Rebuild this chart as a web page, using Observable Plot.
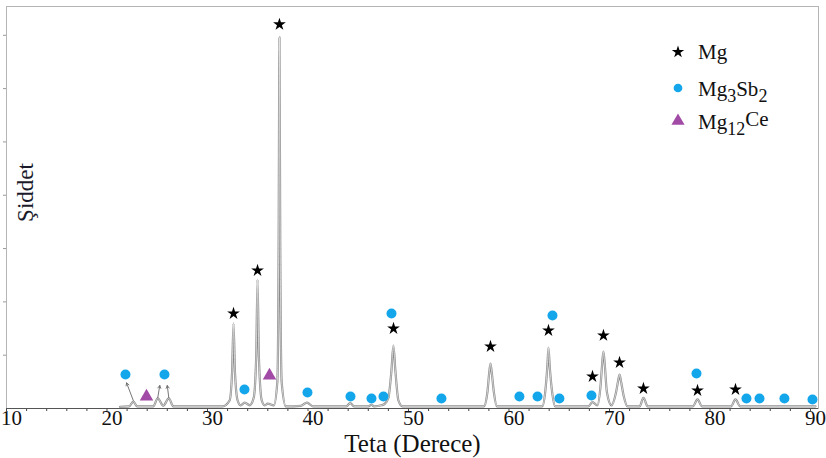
<!DOCTYPE html>
<html><head><meta charset="utf-8">
<script src="https://cdn.jsdelivr.net/npm/d3@7"></script>
<script src="https://cdn.jsdelivr.net/npm/@observablehq/plot@0.6"></script>
<style>body{margin:0;background:#fff} #chart svg{display:block}</style>
</head><body><div id="chart"></div>
<script>
// XRD spectrum (2θ in degrees, intensity in arbitrary counts)
const specX = [21.3, 22.2, 22.62, 23.0, 24.6, 25.05, 25.6, 26.15, 26.6,
  31.5, 32.2, 32.45, 32.59, 32.73, 33.0, 33.3, 33.7, 34.2,
  34.6, 34.85, 34.98, 35.11, 35.4, 35.7, 36.0, 36.6,
  36.95, 37.08, 37.16, 37.24, 37.38, 37.8,
  39.3, 39.9, 40.5, 43.8, 44.2, 44.6, 46.0, 46.3, 46.6, 47.3, 47.6,
  48.0, 48.3, 48.5, 48.7, 49.0, 49.4,
  57.5, 57.85, 58.05, 58.16, 58.27, 58.5, 58.8,
  63.3, 63.6, 63.82, 63.93, 64.05, 64.3, 64.6,
  67.9, 68.3, 68.8, 69.1, 69.3, 69.4, 69.5, 69.75, 70.2,
  70.65, 70.9, 71.0, 71.1, 71.4, 71.8,
  73.0, 73.38, 73.8, 78.3, 78.76, 79.2, 82.1, 82.54, 83.0, 90.5];
const specY = [30, 40, 130, 40, 40, 190, 50, 190, 40,
  40, 150, 700, 1595, 700, 150, 60, 110, 60,
  200, 1000, 2420, 1000, 150, 60, 90, 60,
  500, 3000, 6960, 3000, 500, 40,
  50, 110, 40, 40, 100, 40, 40, 70, 40, 60, 80,
  200, 700, 1182, 700, 150, 40,
  40, 300, 700, 844, 700, 300, 40,
  40, 300, 800, 1144, 800, 300, 40,
  40, 120, 60, 400, 900, 1069, 900, 300, 60,
  300, 560, 638, 560, 250, 40,
  40, 200, 40, 40, 170, 40, 40, 170, 40, 40];

// Phase markers
const mgX = [32.59, 34.98, 37.16, 48.51, 58.16, 63.93, 68.31, 69.40, 71.0, 73.38, 78.76, 82.54];
const mgY = [1782, 2589, 7204, 1501, 1163, 1463, 600, 1370, 863, 375, 338, 356];
const sbX = [21.84, 25.72, 33.68, 39.95, 44.23, 46.32, 47.51, 48.31, 53.28, 61.04, 62.84, 64.33, 65.02, 68.21, 78.66, 83.63, 84.93, 87.41, 90.20];
const sbY = [638, 638, 356, 300, 225, 188, 225, 1782, 188, 225, 225, 1745, 188, 244, 657, 188, 188, 188, 169];
const ceX = [23.93, 36.17];
const ceY = [225, 619];

// Small annotation arrows from weak peaks
const arrowX1 = [22.62, 25.05, 26.15];
const arrowY1 = [150, 200, 200];
const arrowX2 = [21.95, 25.25, 26.0];
const arrowY2 = [480, 430, 430];

const xMajor = [10, 20, 30, 40, 50, 60, 70, 80, 90];
const xMinor = d3.range(10, 91, 2);
const yTicks = [1000, 2000, 3000, 4000, 5000, 6000, 7000];
const xTitle = "Teta (Derece)";
const yTitle = "Şiddet";
const legendLabels = ["Mg", "Mg3Sb2", "Mg12Ce"];

const spectrum = specX.map((x, i) => ({x, y: specY[i]}));
const mg = mgX.map((x, i) => ({x, y: mgY[i]}));
const sb = sbX.map((x, i) => ({x, y: sbY[i]}));
const ce = ceX.map((x, i) => ({x, y: ceY[i]}));
const arrows = arrowX1.map((x1, i) => ({x1, y1: arrowY1[i], x2: arrowX2[i], y2: arrowY2[i]}));

const serif = "'Liberation Serif', 'Times New Roman', serif";
const plot = Plot.plot({
  width: 826, height: 458,
  marginLeft: 6, marginRight: 8, marginTop: 6, marginBottom: 50,
  style: {fontFamily: serif, background: "#fff", overflow: "visible", color: "#111"},
  x: {domain: [10, 90.8]},
  y: {domain: [0, 7540]},
  marks: [
    Plot.frame({stroke: "#b5b5b5"}),
    Plot.axisY({ticks: yTicks, tickSize: 3, tickFormat: () => "", stroke: "#999", label: null}),
    Plot.axisX({ticks: xMinor, tickSize: 3, tickFormat: () => "", stroke: "#444", label: null}),
    Plot.axisX({ticks: xMajor, tickSize: 0, tickPadding: 2, dx: 5, fontSize: 21, label: null, fill: "#111"}),
    Plot.line(spectrum, {x: "x", y: "y", curve: "monotone-x", stroke: "#8a8a8a", strokeWidth: 2.2}),
    Plot.line(spectrum, {x: "x", y: "y", curve: "monotone-x", stroke: "#f2f2f2", strokeWidth: 0.7}),
    Plot.ruleY([0], {stroke: "#555", strokeWidth: 1.2}),
    Plot.arrow(arrows, {x1: "x1", y1: "y1", x2: "x2", y2: "y2", stroke: "#666", strokeWidth: 0.9, headLength: 5, bend: 0}),
    Plot.dot(mg, {x: "x", y: "y", symbol: "star", fill: "#000", r: 4}),
    Plot.dot(sb, {x: "x", y: "y", fill: "#14a6ea", r: 5}),
    Plot.dot(ce, {x: "x", y: "y", symbol: "triangle", fill: "#a24ba6", r: 5}),
    Plot.text([xTitle], {frameAnchor: "bottom", lineAnchor: "middle", textAnchor: "middle", dy: 35, fontSize: 25, fill: "#111"}),
    Plot.text([yTitle], {frameAnchor: "left", lineAnchor: "middle", textAnchor: "middle", rotate: -90, dx: 19, dy: -15, fontSize: 23, fill: "#1a1a2a"})
  ]
});
document.getElementById("chart").appendChild(plot);

// Legend (inside the plot, top right)
const svg = d3.select(plot);
const lg = svg.append("g").attr("font-family", serif).attr("font-size", 21)
  .attr("fill", "#111").attr("text-anchor", "start");
const symTypes = [d3.symbolStar, d3.symbolCircle, d3.symbolTriangle];
const symFill = ["#000", "#14a6ea", "#a24ba6"];
const symSize = [48, 60, 75];
const rowsY = [52, 88, 121];
rowsY.forEach((yy, i) => {
  lg.append("path").attr("d", d3.symbol(symTypes[i], symSize[i])())
    .attr("transform", `translate(678,${yy})`).attr("fill", symFill[i]);
});
// Mg
lg.append("text").attr("x", 698).attr("y", 59).text(legendLabels[0]);
// Mg3Sb2
const t2 = lg.append("text").attr("x", 698).attr("y", 96);
t2.append("tspan").text("Mg");
t2.append("tspan").attr("dy", 6).attr("font-size", 18).text("3");
t2.append("tspan").attr("dy", -6).text("Sb");
t2.append("tspan").attr("dy", 6).attr("font-size", 18).text("2");
// Mg12Ce
const t3 = lg.append("text").attr("x", 698).attr("y", 129);
t3.append("tspan").text("Mg");
t3.append("tspan").attr("dy", 6).attr("font-size", 18).text("12");
t3.append("tspan").attr("dy", -9).text("Ce");
</script>
</body></html>
